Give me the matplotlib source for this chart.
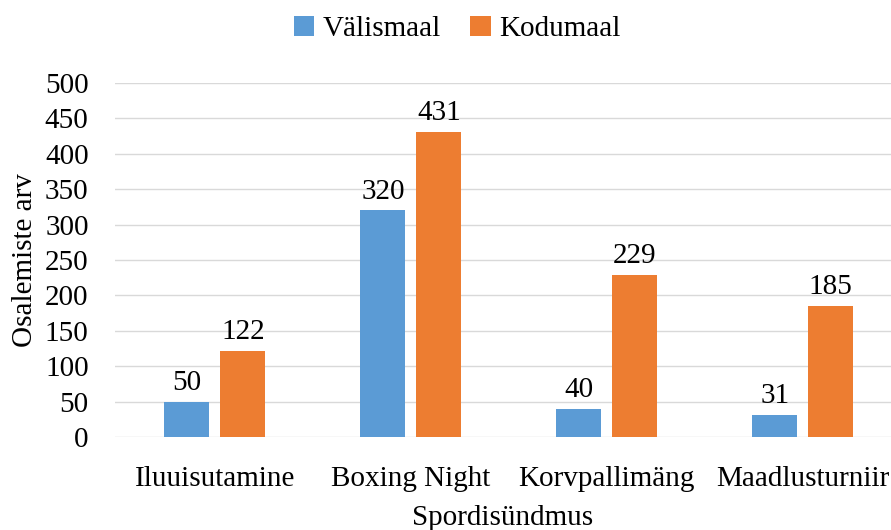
from matplotlib import pyplot as plt
import numpy as np

categories = ['Iluuisutamine', 'Boxing Night', 'Korvpallimäng', 'Maadlusturniir']
valismaal = [50, 320, 40, 31]
kodumaal = [122, 431, 229, 185]
yticks = list(range(0, 501, 50))

plt.rcParams['font.family'] = ['Liberation Serif', 'DejaVu Serif']
fs = 21

fig = plt.figure(figsize=(8.91, 5.30), dpi=100)
ax = fig.add_axes([115/891, 1-437/530, 1-115/891, (437-83)/530])

x = np.arange(len(categories))
w = 0.23
off = 0.143
b1 = ax.bar(x - off, valismaal, w, color='#5B9BD5', label='Välismaal', zorder=3)
b2 = ax.bar(x + off, kodumaal, w, color='#ED7D31', label='Kodumaal', zorder=3)
for bars in (b1, b2):
    ax.bar_label(bars, padding=4, fontsize=fs)

ax.set_xlim(-0.51, 3.45)
ax.set_ylim(0, 500)
ax.set_yticks(yticks)
ax.set_xticks(x)
ax.set_xticklabels(categories)
ax.tick_params(axis='both', length=0, labelsize=fs)
ax.tick_params(axis='x', pad=21)
ax.tick_params(axis='y', pad=19)
ax.grid(axis='y', color='#d9d9d9', linewidth=1, zorder=0)
for s in ax.spines.values():
    s.set_visible(False)

ax.set_xlabel('Spordisündmus', fontsize=fs, labelpad=9)
ax.set_ylabel('Osalemiste arv', fontsize=fs, labelpad=5)
fig.legend(loc='upper center', bbox_to_anchor=(0.513, 1.02), ncol=2, frameon=False,
           fontsize=fs, handlelength=0.7, handleheight=0.7, handletextpad=0.3,
           columnspacing=1.0)

fig.savefig('out.png', dpi=100)
